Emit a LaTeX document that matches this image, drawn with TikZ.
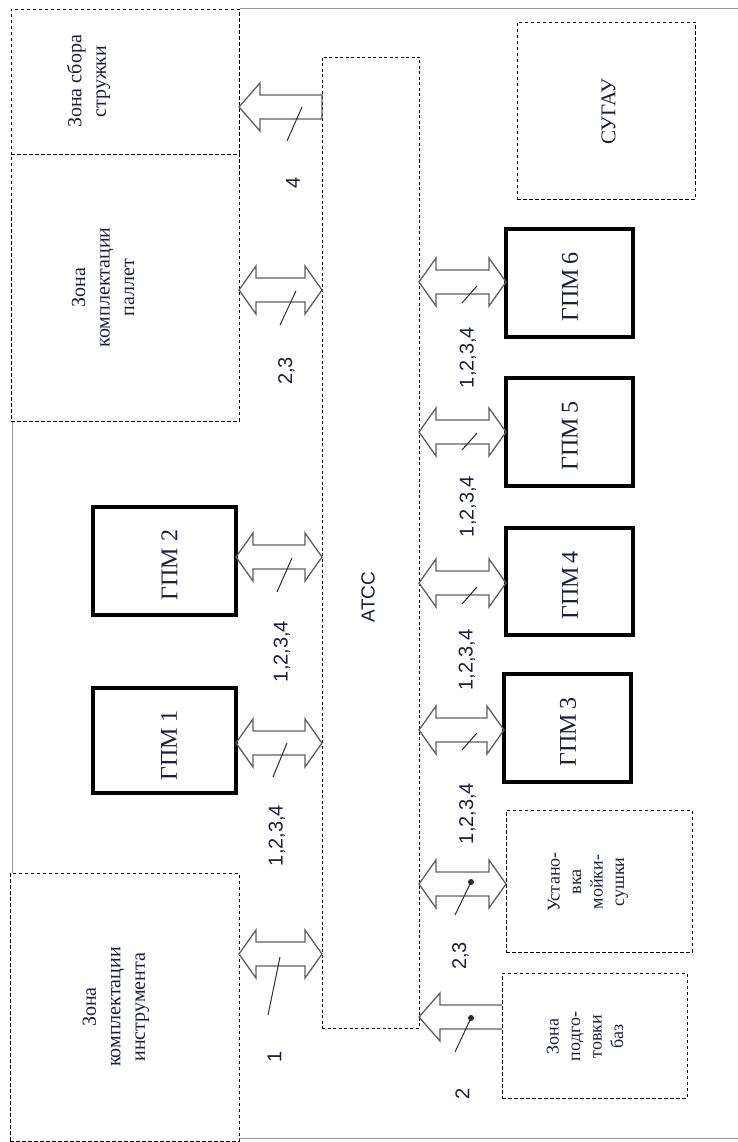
\documentclass[tikz,border=0pt]{standalone}
\usepackage{fontspec}
\setmainfont{Liberation Serif}
\newfontfamily\numfont{Liberation Sans}
\usetikzlibrary{calc}
\definecolor{TxtCol}{RGB}{25,30,60}
\definecolor{ArrGray}{RGB}{95,95,95}
\definecolor{SlashCol}{RGB}{45,45,45}
\definecolor{FrameGray}{RGB}{150,150,150}

% hollow block arrows: #1 left end, #2 right end, #3 level coordinate
\newcommand{\dblarr}[3]{%
  \draw[arrline] let \p1=(#1 |- #3), \p2=(#2 |- #3) in
    (\p1) -- ++(17pt,24pt) -- ++(0,-12pt) -- (\x2-17pt,\y1+12pt) -- ++(0,12pt) -- (\p2)
    -- (\x2-17pt,\y1-24pt) -- ++(0,12pt) -- (\x1+17pt,\y1-12pt) -- ++(0,-12pt) -- cycle;}
% #1 tip (left), #2 tail (right), #3 level, #4 closing
\newcommand{\sglarr}[4]{%
  \draw[arrline] let \p1=(#1 |- #3), \p2=(#2 |- #3) in
    (\x2,\y1+12pt) -- (\x1+21pt,\y1+12pt) -- ++(0,12pt) -- (\p1)
    -- (\x1+21pt,\y1-24pt) -- ++(0,12pt) -- (\x2,\y1-12pt) #4;}

\begin{document}
\begin{tikzpicture}[x=1pt,y=-1pt,
  zonebox/.style={draw=black,line width=0.9pt,dash pattern=on 3.5pt off 2.5pt,inner sep=0pt,outer sep=0pt},
  gpmbox/.style={draw=black,line width=3.2pt,inner sep=0pt,outer sep=0pt},
  arrline/.style={draw=ArrGray,line width=1.3pt,line join=miter},
  slashline/.style={draw=SlashCol,line width=1pt},
  boxlbl/.style={rotate=90,align=center,text=TxtCol,font=\fontsize{20}{24.5}\selectfont},
  smalllbl/.style={rotate=90,align=center,text=TxtCol,font=\fontsize{18}{21.5}\selectfont},
  gpmlbl/.style={rotate=90,text=TxtCol,font=\fontsize{24}{28}\selectfont},
  numlbl/.style={rotate=90,text=TxtCol,font=\numfont\fontsize{20}{24}\selectfont}]
\useasboundingbox (0,0) rectangle (738,1142);

% outer frame
\draw[FrameGray,line width=0.8pt] (240,8)--(738,8) (12,421)--(12,873) (239,1138)--(738,1138);

% left zones
\node[zonebox,minimum width=228pt,minimum height=145pt] (struzh) at (125,81.5) {};
\node[zonebox,minimum width=228pt,minimum height=267pt] (pallet) at (125,287.5) {};
\node[zonebox,minimum width=229pt,minimum height=268pt] (instr) at (124.5,1007) {};
\node[boxlbl] (t-struzh) at ($(struzh)+(-36.5,0)$) {Зона сбора\\стружки};
\node[boxlbl] (t-pallet) at ($(pallet)+(-22,0)$) {Зона\\комплектации\\паллет};
\node[boxlbl] (t-instr) at ($(instr)+(-8.5,0)$) {Зона\\комплектации\\инструмента};

% transport and storage system
\node[zonebox,minimum width=97pt,minimum height=971pt,dash pattern=on 3pt off 2.5pt] (atss) at (370.5,542.5) {};
\node[rotate=90,text=TxtCol,font=\numfont\fontsize{19}{23}\selectfont] (t-atss) at (368,597) {АТСС};

% right zones
\node[zonebox,minimum width=178pt,minimum height=177pt] (sugau) at (606,110.5) {};
\node[zonebox,minimum width=186pt,minimum height=142pt] (moyka) at (599,881) {};
\node[zonebox,minimum width=185pt,minimum height=125pt] (baz) at (594.5,1035.5) {};
\node[rotate=90,text=TxtCol,font=\fontsize{21}{25}\selectfont] (t-sugau) at ($(sugau)+(2.5,1)$) {СУГАУ};
\node[smalllbl] (t-moyka) at ($(moyka)+(-11,1)$) {Устано-\\вка\\мойки-\\сушки};
\node[smalllbl] (t-baz) at ($(baz)+(-9.5,1)$) {Зона\\подго-\\товки\\баз};

% machining modules
\node[gpmbox,minimum width=143pt,minimum height=108pt] (gpm2) at (164.5,561) {};
\node[gpmbox,minimum width=143pt,minimum height=105pt] (gpm1) at (164.5,740.5) {};
\node[gpmbox,minimum width=127pt,minimum height=108pt] (gpm6) at (569.5,283) {};
\node[gpmbox,minimum width=127pt,minimum height=108pt] (gpm5) at (569.5,432) {};
\node[gpmbox,minimum width=127pt,minimum height=107pt] (gpm4) at (569.5,581.5) {};
\node[gpmbox,minimum width=127pt,minimum height=108pt] (gpm3) at (567.5,728) {};
\node[gpmlbl] (t-gpm2) at ($(gpm2)+(5,4)$) {ГПМ 2};
\node[gpmlbl] (t-gpm1) at ($(gpm1)+(4.5,5)$) {ГПМ 1};
\foreach \g/\n in {gpm6/6,gpm5/5,gpm4/4,gpm3/3}
  \node[gpmlbl] (t-\g) at ($(\g)+(0.5,4)$) {ГПМ\,\n};

% arrow levels
\coordinate (lv-struzh) at (0,107);  \coordinate (lv-pallet) at (0,290);
\coordinate (lv-gpm2) at (0,557);    \coordinate (lv-gpm1) at (0,743);
\coordinate (lv-instr) at (0,954);   \coordinate (lv-moyka) at (0,884);
\coordinate (lv-baz) at (0,1017);
\coordinate (lv-gpm6) at (0,282);    \coordinate (lv-gpm5) at (0,432);
\coordinate (lv-gpm4) at (0,583);    \coordinate (lv-gpm3) at (0,730);

% left links
\sglarr{struzh.east}{atss.west}{lv-struzh}{-- cycle}
\dblarr{pallet.east}{atss.west}{lv-pallet}
\dblarr{gpm2.east}{atss.west}{lv-gpm2}
\dblarr{gpm1.east}{atss.west}{lv-gpm1}
\dblarr{instr.east}{atss.west}{lv-instr}
% right links
\foreach \g in {gpm6,gpm5,gpm4,gpm3}
  \dblarr{atss.east}{\g.west}{lv-\g};
\dblarr{atss.east}{moyka.west}{lv-moyka}
\sglarr{atss.east}{baz.west}{lv-baz}{}

% slashes
\draw[slashline] (302,107)--(287,141);
\draw[slashline] (296,291)--(280,325);
\draw[slashline] (292,558)--(277,592);
\draw[slashline] (287,743)--(273,777);
\draw[slashline] (280,957)--(268,1015);
\foreach \yy in {286,433,587,733}
  \draw[slashline] (477,\yy)--(462,{\yy+17});
\draw[slashline] (471,882)--(455,915); \fill[SlashCol] (471,882) circle (3pt);
\draw[slashline] (471,1018)--(455,1052); \fill[SlashCol] (471,1018) circle (3pt);

% link labels
\node[numlbl] (n-struzh) at (293,183) {4};
\node[numlbl] (n-pallet) at (286.5,371) {2,3};
\node[numlbl] (n-gpm2) at (282,651.5) {1,2,3,4};
\node[numlbl] (n-gpm1) at (277,835.5) {1,2,3,4};
\node[numlbl] (n-instr) at (274.5,1057) {1};
\node[numlbl] (n-gpm6) at (468,357.5) {1,2,3,4};
\node[numlbl] (n-gpm5) at (468,506.5) {1,2,3,4};
\node[numlbl] (n-gpm4) at (467,660) {1,2,3,4};
\node[numlbl] (n-gpm3) at (467.5,813.5) {1,2,3,4};
\node[numlbl] (n-moyka) at (460.5,956) {2,3};
\node[numlbl] (n-baz) at (462.5,1094) {2};
\end{tikzpicture}
\end{document}
